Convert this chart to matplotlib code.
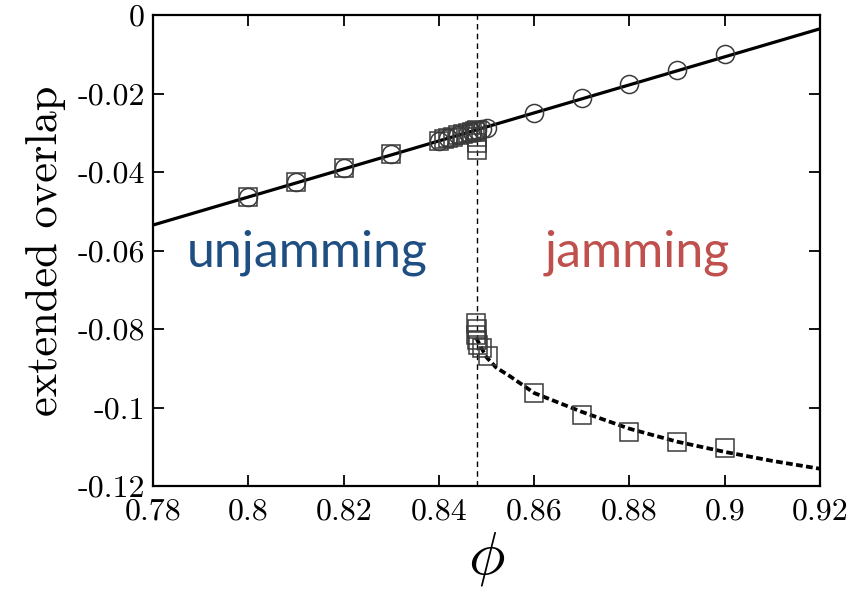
import matplotlib
matplotlib.use("Agg")
import matplotlib.pyplot as plt
from matplotlib.ticker import FuncFormatter

plt.rcParams['mathtext.fontset'] = 'cm'
plt.rcParams['axes.unicode_minus'] = False

# fitted line through the unjammed branch (endpoints)
fit_phi = [0.78, 0.92]
fit_val = [-0.0535, -0.0035]

# dashed fit of the jammed branch
jam_fit_phi = [0.8478, 0.849, 0.850, 0.852, 0.855, 0.86, 0.87, 0.88, 0.89, 0.90, 0.91, 0.92]
jam_fit_val = [-0.0822, -0.0850, -0.0872, -0.0898, -0.0921, -0.0963, -0.1011, -0.1054,
               -0.1087, -0.1113, -0.1136, -0.1156]

# squares, upper branch
sq_up_phi = [0.80, 0.81, 0.82, 0.83, 0.840, 0.841, 0.842, 0.843, 0.844, 0.845, 0.846,
             0.847, 0.8475, 0.848, 0.848, 0.848, 0.848]
sq_up_val = [-0.0463, -0.0425, -0.0390, -0.0353, -0.0320, -0.0317, -0.0313, -0.0310,
             -0.0306, -0.0303, -0.0300, -0.0297, -0.0295, -0.0293, -0.0310, -0.0327, -0.0345]

# circles, upper branch
circ_phi = [0.80, 0.81, 0.82, 0.83, 0.840, 0.842, 0.844, 0.846, 0.847, 0.848, 0.849,
            0.850, 0.86, 0.87, 0.88, 0.89, 0.90]
circ_val = [-0.0463, -0.0425, -0.0390, -0.0353, -0.0320, -0.0313, -0.0306, -0.0300,
            -0.0297, -0.0293, -0.0290, -0.0287, -0.0250, -0.0212, -0.0176, -0.0140, -0.0100]

# squares, jammed branch
sq_lo_phi = [0.8477, 0.8479, 0.8477, 0.8479, 0.8482, 0.8490, 0.8503, 0.86, 0.87, 0.88, 0.89, 0.90]
sq_lo_val = [-0.0785, -0.0800, -0.0815, -0.0828, -0.0840, -0.0848, -0.0868, -0.0962,
             -0.1018, -0.1062, -0.1088, -0.1103]

phi_c = 0.848

fig = plt.figure(figsize=(8.65, 5.92), dpi=100)
ax = fig.add_axes([0.177, 0.179, 0.771, 0.7956])

ax.plot(fit_phi, fit_val, color='black', lw=2.3, zorder=3)
ax.plot(jam_fit_phi, jam_fit_val, color='black', lw=2.7, ls=(0, (1.8, 0.9)), zorder=3)
ax.axvline(phi_c, color='black', lw=1.0, ls=(0, (4, 3)), zorder=1)

mk = dict(ls='none', mfc='none', mec='#3a3a3a', mew=1.1, zorder=4)
ax.plot(sq_up_phi, sq_up_val, marker='s', ms=12.5, **mk)
ax.plot(circ_phi, circ_val, marker='o', ms=13, **mk)
ax.plot(sq_lo_phi, sq_lo_val, marker='s', ms=12.5, **mk)

ax.set_xlim(0.78, 0.92)
ax.set_ylim(-0.12, 0)
ax.set_xticks([0.78, 0.80, 0.82, 0.84, 0.86, 0.88, 0.90, 0.92])
ax.set_yticks([-0.12, -0.10, -0.08, -0.06, -0.04, -0.02, 0])
fmt = FuncFormatter(lambda v, p: '%g' % round(v, 3))
ax.xaxis.set_major_formatter(fmt)
ax.yaxis.set_major_formatter(fmt)

ax.tick_params(direction='in', length=8, width=1.3, top=True, right=True,
               labelsize=23)
ax.tick_params(axis='y', pad=6)
ax.tick_params(axis='x', pad=9)
for lab in ax.get_xticklabels() + ax.get_yticklabels():
    lab.set_family('cmr10')
for s in ax.spines.values():
    s.set_linewidth(1.6)

ax.set_ylabel('extended overlap', family='cmr10', fontsize=32, labelpad=8)
ax.set_xlabel(r'$\phi$', fontsize=44, labelpad=2)

ax.text(0.787, -0.064, 'unjamming', color='#1F4E82', fontsize=36, family='Lato',
        ha='left', va='baseline')
ax.text(0.8623, -0.064, 'jamming', color='#C0504D', fontsize=36, family='Lato',
        ha='left', va='baseline')

fig.savefig('out.png', dpi=100)
